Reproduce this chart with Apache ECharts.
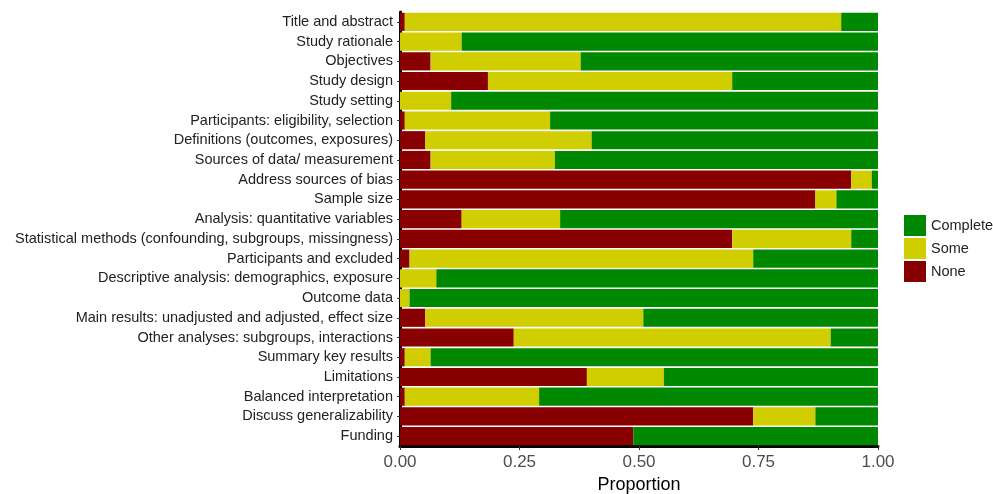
<!DOCTYPE html>
<html>
<head>
<meta charset="utf-8">
<script src="https://cdn.jsdelivr.net/npm/echarts@6/dist/echarts.min.js"></script>
<style>html,body{margin:0;padding:0;background:#fff}#c{width:993px;height:494px}</style>
</head>
<body>
<div id="c"></div>
<script>
const categories = [
  "Title and abstract",
  "Study rationale",
  "Objectives",
  "Study design",
  "Study setting",
  "Participants: eligibility, selection",
  "Definitions (outcomes, exposures)",
  "Sources of data/ measurement",
  "Address sources of bias",
  "Sample size",
  "Analysis: quantitative variables",
  "Statistical methods (confounding, subgroups, missingness)",
  "Participants and excluded",
  "Descriptive analysis: demographics, exposure",
  "Outcome data",
  "Main results: unadjusted and adjusted, effect size",
  "Other analyses: subgroups, interactions",
  "Summary key results",
  "Limitations",
  "Balanced interpretation",
  "Discuss generalizability",
  "Funding"
];
const noneValues     = [0.010, 0.000, 0.064, 0.184, 0.000, 0.010, 0.053, 0.064, 0.944, 0.869, 0.129, 0.695, 0.020, 0.000, 0.000, 0.053, 0.238, 0.010, 0.391, 0.010, 0.739, 0.488];
const someValues     = [0.913, 0.129, 0.314, 0.511, 0.107, 0.304, 0.348, 0.260, 0.043, 0.044, 0.206, 0.249, 0.719, 0.076, 0.020, 0.456, 0.663, 0.054, 0.161, 0.281, 0.130, 0.000];
const completeValues = [0.077, 0.871, 0.622, 0.305, 0.893, 0.686, 0.599, 0.676, 0.013, 0.087, 0.665, 0.056, 0.261, 0.924, 0.980, 0.491, 0.099, 0.936, 0.448, 0.709, 0.131, 0.512];
const xTicks = [0, 0.25, 0.5, 0.75, 1];

const colors = { None: "#880000", Some: "#D0CD00", Complete: "#008800" };

const chart = echarts.init(document.getElementById('c'), null, { renderer: 'canvas' });
const font = "Liberation Sans, Arial, sans-serif";
function series(name, data) {
  return {
    name: name, type: 'bar', stack: 'total', data: data,
    barCategoryGap: '8%',
    itemStyle: { color: colors[name] },
    emphasis: { disabled: true }
  };
}
chart.setOption({
  animation: false,
  backgroundColor: '#fff',
  grid: { left: 400, right: 115, top: 12, bottom: 48, containLabel: false, outerBoundsMode: 'none' },
  legend: {
    orient: 'vertical', left: 899, top: 210,
    data: ['Complete', 'Some', 'None'],
    itemWidth: 22, itemHeight: 21, itemGap: 2,
    icon: 'rect',
    textStyle: { fontFamily: font, fontSize: 14.5, color: '#222' }
  },
  xAxis: {
    type: 'value', min: 0, max: 1, interval: 0.25,
    name: 'Proportion', nameLocation: 'middle', nameGap: 27,
    nameTextStyle: { fontFamily: font, fontSize: 18, color: '#000' },
    axisLine: { show: true, lineStyle: { color: '#000', width: 3 } },
    axisTick: { show: true, length: 4, lineStyle: { color: '#333' } },
    axisLabel: {
      fontFamily: font, fontSize: 17, color: '#4d4d4d', margin: 8,
      formatter: v => xTicks.includes(v) ? v.toFixed(2) : ''
    },
    splitLine: { show: false }
  },
  yAxis: {
    type: 'category', data: categories, inverse: true, offset: 2,
    axisLine: { show: true, lineStyle: { color: '#000', width: 3 } },
    axisTick: { show: true, length: 3, alignWithLabel: true, lineStyle: { color: '#333' } },
    axisLabel: { fontFamily: font, fontSize: 14.5, color: '#222', margin: 5, interval: 0 },
    splitLine: { show: false }
  },
  series: [
    series('None', noneValues),
    series('Some', someValues),
    series('Complete', completeValues)
  ]
});
</script>
</body>
</html>
